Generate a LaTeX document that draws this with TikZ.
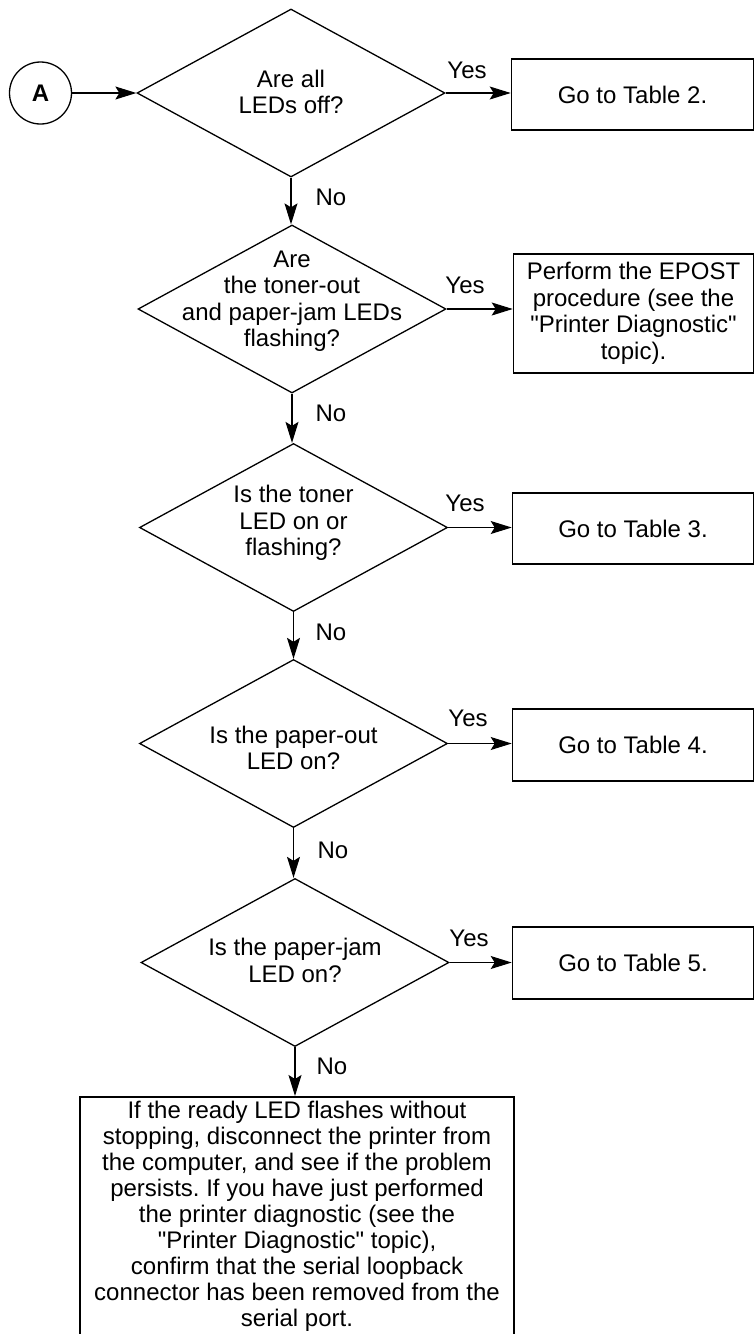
\documentclass[tikz,border=0pt]{standalone}
\usepackage{fontspec}
\setmainfont{Liberation Sans}
\newfontfamily\lsans{Liberation Sans}
\frenchspacing
\usetikzlibrary{shapes.geometric,arrows.meta}
\begin{document}
\begin{tikzpicture}[x=1pt,y=-1pt,
  dec/.style={diamond,draw,line width=1.3pt,minimum width=308pt,minimum height=168pt,inner sep=0pt},
  txt/.style={align=center,font=\lsans\fontsize{24}{26.5}\selectfont,inner sep=0pt},
  box/.style={draw,line width=1.6pt,align=center,font=\lsans\fontsize{24}{26.5}\selectfont,inner sep=0pt},
  arr/.style={-{Stealth[length=21pt,width=13pt,inset=4pt]},line width=1.1pt},
  lbl/.style={font=\lsans\fontsize{24}{26}\selectfont,inner sep=0pt}]
\useasboundingbox (0,0) rectangle (755,1334);
\clip (0,0) rectangle (755,1334);

% start
\node[circle,draw,line width=1.3pt,minimum size=62pt,inner sep=0pt,font=\lsans\fontsize{24}{26}\selectfont\bfseries] (A) at (40.5,93) {A};

% decisions
\node[dec] (d1) at (291,93) {};
\node[txt] (t1) at (291,92) {Are all\\LEDs off?};
\node[dec] (d2) at (292,309) {};
\node[txt] (t2) at (292,301) {Are\\the toner-out\\and paper-jam LEDs\\flashing?};
\node[dec] (d3) at (293.5,527.5) {};
\node[txt] (t3) at (293.5,523) {Is the toner\\LED on or\\flashing?};
\node[dec] (d4) at (293.5,743.5) {};
\node[txt] (t4) at (293.5,748) {Is the paper-out\\LED on?};
\node[dec] (d5) at (295,962.5) {};
\node[txt] (t5) at (295,960.5) {Is the paper-jam\\LED on?};

% boxes
\node[box,minimum width=242pt,minimum height=71pt] (b1) at (632.5,94.5) {Go to Table 2.};
\node[box,minimum width=240pt,minimum height=119pt] (b2) at (633.5,313.5) {Perform the EPOST\\procedure (see the\\"Printer Diagnostic"\\topic).};
\node[box,minimum width=241pt,minimum height=71pt] (b3) at (633,528.5) {Go to Table 3.};
\node[box,minimum width=241pt,minimum height=72pt] (b4) at (633,745) {Go to Table 4.};
\node[box,minimum width=241pt,minimum height=72pt] (b5) at (633,963) {Go to Table 5.};
\node[draw,line width=1.6pt,minimum width=434pt,minimum height=260pt,anchor=north,inner sep=0pt] (b6) at (297,1096) {};
\node[align=center,font=\lsans\fontsize{24}{26}\selectfont,inner sep=0pt,anchor=north] (t6) at (297,1101)
  {If the ready LED flashes without\\stopping, disconnect the printer from\\the computer, and see if the problem\\persists. If you have just performed\\the printer diagnostic (see the\\"Printer Diagnostic" topic),\\confirm that the serial loopback\\connector has been removed from the\\serial port.};

% connectors
\draw[arr] (A.east) -- (d1.west);
\draw[arr] (d1.east) -- (d1.east -| b1.west);
\draw[arr] (d2.east) -- (d2.east -| b2.west);
\draw[arr] (d3.east) -- (d3.east -| b3.west);
\draw[arr] (d4.east) -- (d4.east -| b4.west);
\draw[arr] (d5.east) -- (d5.east -| b5.west);
\draw[arr] (d1.south) -- (d1.south |- d2.north);
\draw[arr] (d2.south) -- (d2.south |- d3.north);
\draw[arr] (d3.south) -- (d3.south |- d4.north);
\draw[arr] (d4.south) -- (d4.south |- d5.north);
\draw[arr] (d5.south) -- (d5.south |- b6.north);

% labels
\node[lbl] (y1) at (467,70) {Yes};
\node[lbl] (y2) at (465,285) {Yes};
\node[lbl] (y3) at (465,503) {Yes};
\node[lbl] (y4) at (468,718) {Yes};
\node[lbl] (y5) at (469,938) {Yes};
\node[lbl] (n1) at (331,197) {No};
\node[lbl] (n2) at (331,413) {No};
\node[lbl] (n3) at (331,632) {No};
\node[lbl] (n4) at (333,850) {No};
\node[lbl] (n5) at (332,1066) {No};
\end{tikzpicture}
\end{document}
